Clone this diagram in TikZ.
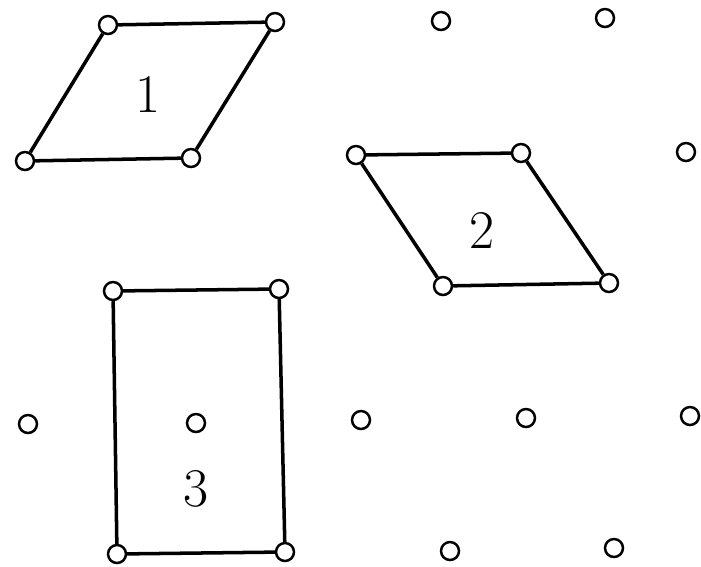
\documentclass[tikz,border=0pt]{standalone}
\usepackage{fontspec}
\tikzset{
  pt/.style={circle, draw, line width=1.4pt, inner sep=0pt, minimum size=0.36cm},
  side/.style={line width=2pt},
  lbl/.style={font=\fontsize{31}{36}\selectfont, inner sep=0pt}
}
\begin{document}
\begin{tikzpicture}[x=0.02cm, y=-0.02cm]
    \useasboundingbox (0,0) rectangle (701,566);

    % Lattice points, row by row
    \node[pt] (a1) at (108,25) {};
    \node[pt] (a2) at (275,22) {};
    \node[pt] (a3) at (441,21) {};
    \node[pt] (a4) at (605,18) {};

    \node[pt] (b1) at (25,161) {};
    \node[pt] (b2) at (191,158) {};
    \node[pt] (b3) at (356,155) {};
    \node[pt] (b4) at (521,153) {};
    \node[pt] (b5) at (686,152) {};

    \node[pt] (c1) at (113,291) {};
    \node[pt] (c2) at (279,289) {};
    \node[pt] (c3) at (443,286) {};
    \node[pt] (c4) at (609,283) {};

    \node[pt] (d1) at (28,424) {};
    \node[pt] (d2) at (196,423) {};
    \node[pt] (d3) at (361,420) {};
    \node[pt] (d4) at (526,418) {};
    \node[pt] (d5) at (690,416) {};

    \node[pt] (e1) at (117,554) {};
    \node[pt] (e2) at (285,552) {};
    \node[pt] (e3) at (450,551) {};
    \node[pt] (e4) at (614,548) {};

    % Parallelogram 1
    \draw[side] (a1) -- (a2);
    \draw[side] (a2) -- (b2);
    \draw[side] (b2) -- (b1);
    \draw[side] (b1) -- (a1);

    % Parallelogram 2
    \draw[side] (b3) -- (b4);
    \draw[side] (b4) -- (c4);
    \draw[side] (c4) -- (c3);
    \draw[side] (c3) -- (b3);

    % Rectangle 3
    \draw[side] (c1) -- (c2);
    \draw[side] (c2) -- (e2);
    \draw[side] (e2) -- (e1);
    \draw[side] (e1) -- (c1);

    \node[lbl] (n1) at (148,94) {1};
    \node[lbl] (n2) at (482,230) {2};
    \node[lbl] (n3) at (196,489) {3};
\end{tikzpicture}
\end{document}
